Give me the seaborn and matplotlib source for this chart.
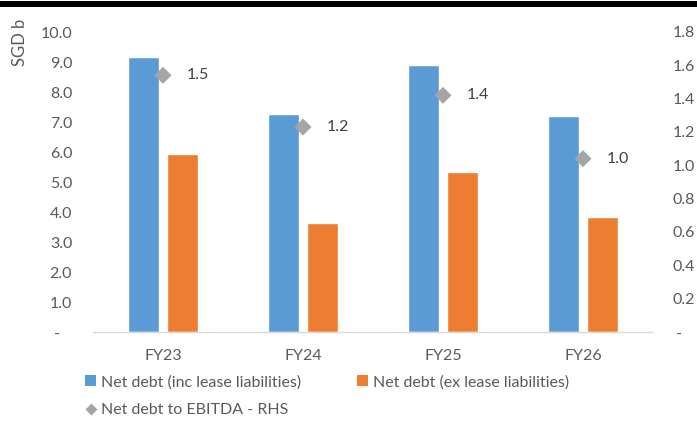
import matplotlib
matplotlib.use("Agg")
import matplotlib.pyplot as plt
from matplotlib.lines import Line2D
from matplotlib.patches import Patch, Rectangle
from matplotlib.ticker import FixedLocator, FuncFormatter
import pandas as pd
import seaborn as sns

# Data (SGD b, net debt / EBITDA multiple)
years = ["FY23", "FY24", "FY25", "FY26"]
net_debt_inc_lease = [9.17, 7.27, 8.90, 7.21]
net_debt_ex_lease = [5.93, 3.64, 5.34, 3.84]
net_debt_to_ebitda = [1.54, 1.23, 1.42, 1.04]

series_names = ["Net debt (inc lease liabilities)", "Net debt (ex lease liabilities)"]
ratio_name = "Net debt to EBITDA - RHS"

BLUE = "#5B9BD5"
ORANGE = "#ED7D31"
GREY = "#A5A5A5"
TEXT = "#595959"
FS = 11.5

sns.set_style("white")
plt.rcParams["font.family"] = ["Lato", "DejaVu Sans"]

bars = pd.DataFrame({
    "year": years * 2,
    "value": net_debt_inc_lease + net_debt_ex_lease,
    "series": [series_names[0]] * len(years) + [series_names[1]] * len(years),
})

fig = plt.figure(figsize=(6.97, 4.28), dpi=100)
ax = fig.add_axes([93 / 697, 1 - 332 / 428, 560 / 697, 300 / 428])

sns.barplot(data=bars, x="year", y="value", hue="series", order=years,
            hue_order=series_names, palette=[BLUE, ORANGE],
            width=0.565, gap=0.22, saturation=1, legend=False, ax=ax)

ax.set_xlim(-0.5, len(years) - 0.5)
ax.set_ylim(0, 10)
ax.set_xlabel("")
ax.set_ylabel("")

def dash_zero_left(v, _):
    return "-   " if abs(v) < 1e-9 else f"{v:.1f}"

def dash_zero_right(v, _):
    return " -" if abs(v) < 1e-9 else f"{v:.1f}"

ax.yaxis.set_major_locator(FixedLocator([i for i in range(11)]))
ax.yaxis.set_major_formatter(FuncFormatter(dash_zero_left))
ax.tick_params(axis="y", length=0, pad=15, labelsize=FS, labelcolor=TEXT)
ax.tick_params(axis="x", length=0, pad=12, labelsize=FS, labelcolor=TEXT)

for side in ["top", "left", "right"]:
    ax.spines[side].set_visible(False)
ax.spines["bottom"].set_color("#D9D9D9")
ax.spines["bottom"].set_linewidth(1.0)

# Secondary axis: leverage multiple
ax2 = ax.twinx()
xpos = list(range(len(years)))
sns.scatterplot(x=xpos, y=net_debt_to_ebitda, marker="D", s=75, color=GREY,
                edgecolor="none", legend=False, ax=ax2, zorder=5)
ax2.set_xlim(-0.5, len(years) - 0.5)
ax2.set_ylim(0, 1.8)
ax2.set_ylabel("")
ax2.yaxis.set_major_locator(FixedLocator([round(0.2 * i, 1) for i in range(10)]))
ax2.yaxis.set_major_formatter(FuncFormatter(dash_zero_right))
ax2.tick_params(axis="y", length=0, pad=14, labelsize=FS, labelcolor=TEXT)
for side in ["top", "left", "right", "bottom"]:
    ax2.spines[side].set_visible(False)

for x, r in zip(xpos, net_debt_to_ebitda):
    ax2.annotate(f"{r:.1f}", (x, r), xytext=(17, 0), textcoords="offset points",
                 ha="left", va="center", fontsize=FS, color="#404040")

fig.text(20 / 697, 1 - 42 / 428, "SGD b", rotation=90, ha="center", va="center",
         fontsize=12, color=TEXT)

# Heavy rule across the top of the figure
fig.add_artist(Rectangle((0, 1 - 7 / 428), 1, 6 / 428, transform=fig.transFigure,
                         facecolor="black", edgecolor="none"))

handles = [
    Patch(facecolor=BLUE, edgecolor="none", label=series_names[0]),
    Line2D([], [], marker="D", linestyle="none", markersize=6, color=GREY,
           markeredgecolor="none", label=ratio_name),
    Patch(facecolor=ORANGE, edgecolor="none", label=series_names[1]),
]
fig.legend(handles=handles, ncol=2, loc="upper left",
           bbox_to_anchor=(85 / 697, 1 - 375 / 428), frameon=False,
           fontsize=FS, labelcolor=TEXT, handlelength=0.7, handleheight=0.7,
           handletextpad=0.3, columnspacing=3.5, labelspacing=0.85,
           borderaxespad=0, borderpad=0)

fig.savefig("out.png", dpi=100)
